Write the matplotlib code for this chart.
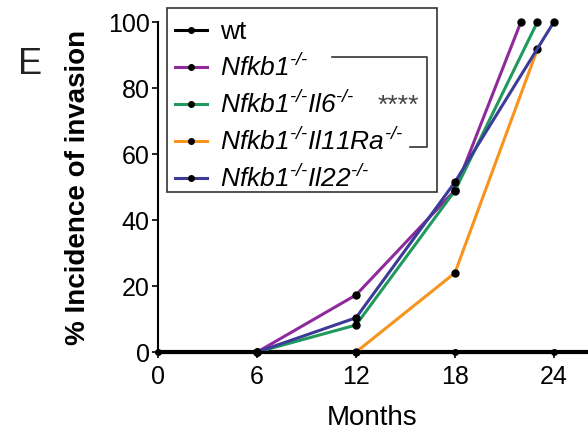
import matplotlib
matplotlib.use("Agg")
import matplotlib.pyplot as plt
from matplotlib.patches import Rectangle

plt.rcParams.update({
    "font.family": ["Liberation Sans", "DejaVu Sans"],
    "mathtext.fontset": "custom",
    "mathtext.it": "Liberation Sans:italic",
    "mathtext.rm": "Liberation Sans:italic",
    "mathtext.bf": "Liberation Sans:bold",
})

# data
wt_x = [0, 6, 12, 18, 24]
wt_y = [0, 0, 0, 0, 0]
nfkb1_x = [6, 12, 18, 22]
nfkb1_y = [0, 17.3, 49.0, 100]
il6_x = [6, 12, 18, 23]
il6_y = [0, 8.2, 48.9, 100]
il11ra_x = [12, 18, 23]
il11ra_y = [0, 24.0, 91.7]
il22_x = [6, 12, 18, 24]
il22_y = [0, 10.4, 51.5, 100]

ko = r"^{‐/‐}"
labels = [
    "wt",
    r"$Nfkb1" + ko + "$",
    r"$Nfkb1" + ko + r"Il6" + ko + "$",
    r"$Nfkb1" + ko + r"Il11Ra" + ko + "$",
    r"$Nfkb1" + ko + r"Il22" + ko + "$",
]
colors = ["#000000", "#8e2a9c", "#1f9a5c", "#f7941d", "#3b3b98"]

W, H = 588, 432
fig = plt.figure(figsize=(W / 100, H / 100), dpi=100)
ax = fig.add_axes([0.269, 0.185, 0.729, 0.764])

series = [(nfkb1_x, nfkb1_y), (il6_x, il6_y), (il11ra_x, il11ra_y), (il22_x, il22_y)]
handles = []
h, = ax.plot(wt_x, wt_y, color="black", lw=2.2, marker="o", ms=4,
             mfc="black", mec="black", clip_on=False, zorder=5)
handles.append(h)
for (x, y), c in zip(series, colors[1:]):
    h, = ax.plot(x, y, color=c, lw=2.2, marker="o", ms=5, mfc="black",
                 mec="black", clip_on=False, zorder=3)
    handles.append(h)

ax.set_xlim(0, 26)
ax.set_ylim(0, 100)
ax.set_xticks([0, 6, 12, 18, 24])
ax.set_yticks([0, 20, 40, 60, 80, 100])
ax.spines["top"].set_visible(False)
ax.spines["right"].set_visible(False)
ax.spines["left"].set_linewidth(1.5)
ax.spines["bottom"].set_linewidth(3.0)
ax.tick_params(direction="out", length=4, width=1.2, labelsize=18, pad=2)
ax.tick_params(axis="x", pad=5)
ax.set_xlabel("Months", fontsize=20, labelpad=12)
ax.set_ylabel("% Incidence of invasion", fontsize=20, fontweight="bold", labelpad=12)

leg = ax.legend(handles, labels, loc="upper left",
                bbox_to_anchor=(9 / 429, 1 + 10 / 330),
                fontsize=19, handlelength=1.2, handletextpad=0.5,
                labelspacing=0.38, borderpad=0.3, frameon=False,
                borderaxespad=0.0)
for lh in leg.get_lines():
    lh.set_markersize(4)

# legend frame drawn by hand so it keeps the reference's extra right margin
fig.add_artist(Rectangle((167 / W, 1 - 192 / H), 270 / W, 184 / H,
                         fill=False, edgecolor="#333333", lw=1.2,
                         transform=fig.transFigure))

# significance bracket
bx0, bx1 = 332 / W, 427 / W
by0, by1 = 1 - 57 / H, 1 - 147 / H
fig.add_artist(plt.Line2D([bx0, bx1, bx1, 410 / W], [by0, by0, by1, by1],
                          color="#333333", lw=1.2, transform=fig.transFigure))
fig.text(398 / W, 1 - 113 / H, "****", fontsize=19, color="#444444",
         ha="center", va="baseline")

fig.text(30 / W, 1 - 65 / H, "E", fontsize=26, color="#222222",
         ha="center", va="center")

fig.savefig("out.png", dpi=100)
